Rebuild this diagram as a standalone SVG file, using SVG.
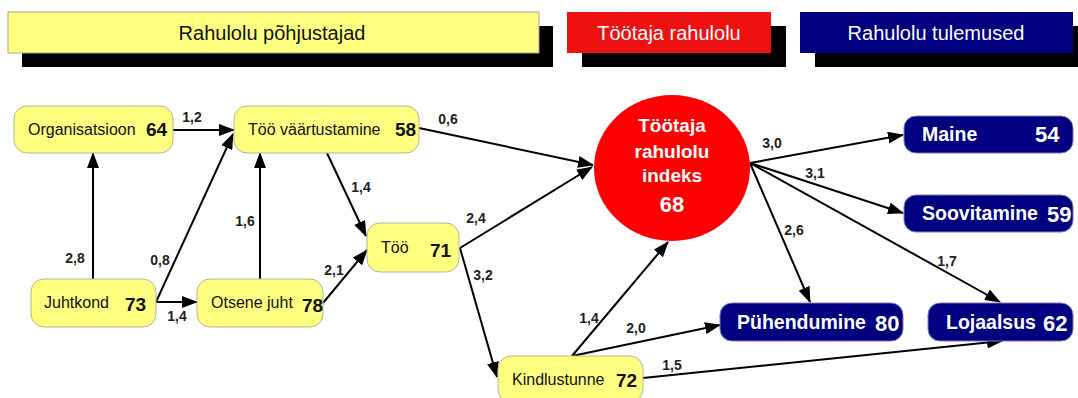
<svg xmlns="http://www.w3.org/2000/svg" width="1078" height="398" viewBox="0 0 1078 398">
<defs>
<marker id="arr" viewBox="0 0 16 12" refX="15" refY="6" markerWidth="16" markerHeight="12" markerUnits="userSpaceOnUse" orient="auto">
<path d="M0,0 L16,6 L0,12 Z" fill="#000"/>
</marker>
<style>
.hdr-text{font-family:"Liberation Sans",Arial,sans-serif;font-size:20px;text-anchor:middle}
.shadow{fill:#000}
.yn{fill:#ffff80;stroke:#b4b49a;stroke-width:1}
.bn{fill:#000080;stroke:#7a7ab8;stroke-width:1}
.yt{font-family:"Liberation Sans",Arial,sans-serif;font-size:16px;fill:#111}
.yv{font-family:"Liberation Sans",Arial,sans-serif;font-size:19px;font-weight:bold;fill:#111}
.bt{font-family:"Liberation Sans",Arial,sans-serif;font-size:19.5px;font-weight:bold;fill:#fff}
.bv{font-family:"Liberation Sans",Arial,sans-serif;font-size:22px;font-weight:bold;fill:#fff}
.ct{font-family:"Liberation Sans",Arial,sans-serif;font-size:19px;font-weight:bold;fill:#fff;text-anchor:middle}
.edge{stroke:#000;stroke-width:2;fill:none;marker-end:url(#arr)}
.el{font-family:"Liberation Sans",Arial,sans-serif;font-size:14px;font-weight:bold;fill:#222;text-anchor:middle}
</style>
</defs>
<rect width="1078" height="398" fill="#fff"/>

<g id="header-causes">
<rect class="shadow" x="22" y="26" width="531" height="41"/>
<rect x="8" y="12" width="531" height="41" fill="#ffff80" stroke="#a8a890"/>
<text class="hdr-text" x="272" y="39.5" fill="#111">Rahulolu põhjustajad</text>
</g>
<g id="header-satisfaction">
<rect class="shadow" x="582" y="26" width="204" height="41"/>
<rect x="567" y="12" width="204" height="41" fill="#ee1111"/>
<text class="hdr-text" x="669" y="39.5" fill="#fff">Töötaja rahulolu</text>
</g>
<g id="header-results">
<rect class="shadow" x="815" y="26" width="263" height="41"/>
<rect x="800" y="12" width="273" height="41" fill="#000080"/>
<text class="hdr-text" x="936" y="39.5" fill="#fff">Rahulolu tulemused</text>
</g>

<g id="connectors">
<line class="edge" x1="173" y1="130" x2="234" y2="130"/>
<line class="edge" x1="93" y1="279" x2="93" y2="153"/>
<line class="edge" x1="156" y1="302" x2="233" y2="134"/>
<line class="edge" x1="156" y1="302" x2="197" y2="302"/>
<line class="edge" x1="260" y1="279" x2="260" y2="153"/>
<line class="edge" x1="323" y1="303" x2="367" y2="250"/>
<line class="edge" x1="327" y1="153" x2="366" y2="236"/>
<line class="edge" x1="419" y1="128" x2="593" y2="165"/>
<line class="edge" x1="460" y1="248" x2="592" y2="167"/>
<line class="edge" x1="460" y1="248" x2="497" y2="377"/>
<line class="edge" x1="572" y1="356" x2="668" y2="242"/>
<line class="edge" x1="572" y1="356" x2="720" y2="325"/>
<line class="edge" x1="643" y1="378" x2="1002" y2="341"/>
<line class="edge" x1="750" y1="163" x2="903" y2="135"/>
<line class="edge" x1="750" y1="163" x2="903" y2="213"/>
<line class="edge" x1="750" y1="163" x2="810" y2="302"/>
<line class="edge" x1="750" y1="163" x2="1000" y2="302"/>
<text class="el" x="192" y="122">1,2</text>
<text class="el" x="75" y="263">2,8</text>
<text class="el" x="160" y="265">0,8</text>
<text class="el" x="177" y="321">1,4</text>
<text class="el" x="245" y="226">1,6</text>
<text class="el" x="334" y="275">2,1</text>
<text class="el" x="361" y="192">1,4</text>
<text class="el" x="448" y="124">0,6</text>
<text class="el" x="476" y="223">2,4</text>
<text class="el" x="483" y="280">3,2</text>
<text class="el" x="589" y="323">1,4</text>
<text class="el" x="636" y="333">2,0</text>
<text class="el" x="672" y="370">1,5</text>
<text class="el" x="772" y="148">3,0</text>
<text class="el" x="815" y="178">3,1</text>
<text class="el" x="794" y="235">2,6</text>
<text class="el" x="947" y="266">1,7</text>
</g>

<g id="node-organisatsioon">
<rect class="yn" x="14" y="106" width="159" height="47" rx="13"/>
<text class="yt" x="28" y="135">Organisatsioon</text>
<text class="yv" x="146" y="136">64</text>
</g>
<g id="node-too-vaartustamine">
<rect class="yn" x="234" y="106" width="185" height="47" rx="13"/>
<text class="yt" x="248" y="135">Töö väärtustamine</text>
<text class="yv" x="395" y="136">58</text>
</g>
<g id="node-juhtkond">
<rect class="yn" x="31" y="279" width="125" height="48" rx="13"/>
<text class="yt" x="44" y="308">Juhtkond</text>
<text class="yv" x="125" y="311">73</text>
</g>
<g id="node-otsene-juht">
<rect class="yn" x="197" y="279" width="126" height="48" rx="13"/>
<text class="yt" x="211" y="308">Otsene juht</text>
<text class="yv" x="302" y="312">78</text>
</g>
<g id="node-too">
<rect class="yn" x="367" y="223" width="92" height="49" rx="13"/>
<text class="yt" x="381" y="253">Töö</text>
<text class="yv" x="430" y="257">71</text>
</g>
<g id="node-kindlustunne">
<rect class="yn" x="498" y="356" width="145" height="46" rx="13"/>
<text class="yt" x="512" y="385">Kindlustunne</text>
<text class="yv" x="616" y="387">72</text>
</g>
<g id="node-index">
<ellipse cx="672" cy="168" rx="78" ry="73" fill="#ff0000"/>
<text class="ct" x="672" y="132">Töötaja</text>
<text class="ct" x="672" y="158">rahulolu</text>
<text class="ct" x="672" y="182">indeks</text>
<text class="ct" x="672" y="212" style="font-size:22px">68</text>
</g>
<g id="node-maine">
<rect class="bn" x="904" y="116" width="169" height="37" rx="12"/>
<text class="bt" x="922" y="141">Maine</text>
<text class="bv" x="1035" y="142">54</text>
</g>
<g id="node-soovitamine">
<rect class="bn" x="904" y="195" width="169" height="37" rx="12"/>
<text class="bt" x="922" y="220">Soovitamine</text>
<text class="bv" x="1047" y="222">59</text>
</g>
<g id="node-puhendumine">
<rect class="bn" x="720" y="303" width="183" height="38" rx="12"/>
<text class="bt" x="737" y="329">Pühendumine</text>
<text class="bv" x="875" y="331">80</text>
</g>
<g id="node-lojaalsus">
<rect class="bn" x="928" y="303" width="145" height="38" rx="12"/>
<text class="bt" x="946" y="329">Lojaalsus</text>
<text class="bv" x="1043" y="331">62</text>
</g>
</svg>
